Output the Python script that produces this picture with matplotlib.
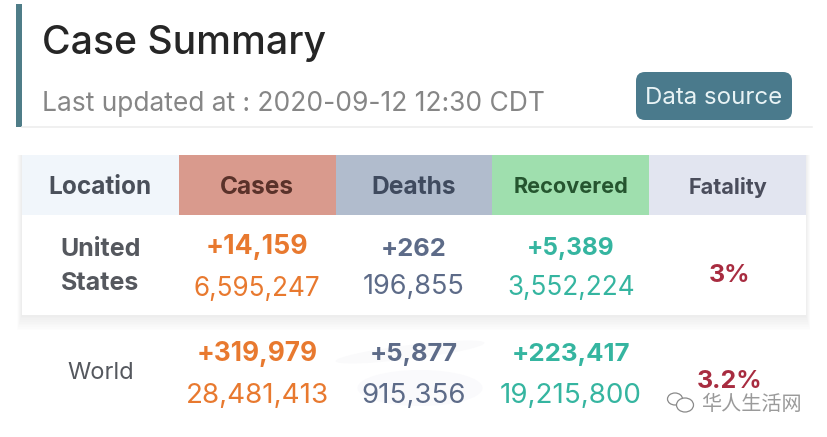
import matplotlib
matplotlib.use('Agg')
import matplotlib.pyplot as plt
from matplotlib.patches import Rectangle, FancyBboxPatch, Ellipse

plt.rcParams['font.family'] = ['Inter', 'DejaVu Sans']

# table contents
columns = ['Location', 'Cases', 'Deaths', 'Recovered', 'Fatality']
header_bg = ['#f1f6fb', '#d99a8d', '#b1bccd', '#9fdfae', '#e2e5f0']
header_fg = ['#4a505a', '#5a322a', '#3f4a5e', '#25552f', '#4a4d5c']
header_size = [17.6, 17.6, 17.7, 15.6, 15.6]
locations = ['United\nStates', 'World']
new_cases = ['+14,159', '+319,979']
total_cases = ['6,595,247', '28,481,413']
new_deaths = ['+262', '+5,877']
total_deaths = ['196,855', '915,356']
new_recovered = ['+5,389', '+223,417']
total_recovered = ['3,552,224', '19,215,800']
fatality = ['3%', '3.2%']

W, H = 828, 437
fig = plt.figure(figsize=(W / 100, H / 100), dpi=100)
ax = fig.add_axes([0, 0, 1, 1])
ax.set_xlim(0, W)
ax.set_ylim(H, 0)
ax.axis('off')

# title block
ax.add_patch(Rectangle((16, 4), 6, 123, color='#4f7d88', lw=0))
ax.plot([22, 812], [127, 127], color='#eeeeee', lw=1.2)
ax.text(42, 43, 'Case Summary', fontsize=28.2, fontweight='medium', color='#262626', va='center', ha='left')
ax.text(42, 104, 'Last updated at : 2020-09-12 12:30 CDT', fontsize=19, color='#868686',
        va='center', ha='left')

# button
ax.add_patch(FancyBboxPatch((636, 72), 156, 48, boxstyle='round,pad=0,rounding_size=9',
                            facecolor='#4a7a8c', edgecolor='none', lw=0))
ax.text(714, 98.5, 'Data source', fontsize=17.3, color='#e8f3f5', va='center', ha='center')

# soft shadow under the US row
for i in range(10):
    ax.add_patch(Rectangle((22 - i * 0.5, 155), 784 + i, 160 + i * 1.7, color='#50506a',
                           alpha=0.007, lw=0, zorder=1))
ax.add_patch(Rectangle((22, 155), 784, 160, color='white', lw=0, zorder=2))

# header
left = 22
col_w = 156.8
centers = [left + col_w * (i + 0.5) for i in range(5)]
for i, name in enumerate(columns):
    ax.add_patch(Rectangle((left + col_w * i, 155), col_w, 60, color=header_bg[i], lw=0, zorder=3))
    ax.text(centers[i], 187, name, fontsize=header_size[i], fontweight='bold', color=header_fg[i],
            va='center', ha='center', zorder=4)

# faint smudge behind the world deaths figures
ax.add_patch(Ellipse((410, 352), 150, 14, angle=-7, color='#fafafb', lw=0, zorder=1))
ax.add_patch(Ellipse((420, 388), 125, 36, color='#fafafc', lw=0, zorder=1))

orange = '#e8792f'
slate = '#5d6b88'
green = '#35b5a0'
red = '#a82c40'
new_y = [247, 354]
total_y = [289, 396]
fat_y = [275, 381]
new_size = [19.2, 18.8]
total_size = [18.8, 20]
for r in range(2):
    if r == 0:
        ax.text(centers[0], 266.5, locations[r], fontsize=18, fontweight='bold', color='#55585e',
                va='center', ha='center', linespacing=1.64, zorder=4)
    else:
        ax.text(centers[0], 373, locations[r], fontsize=17, color='#55585e',
                va='center', ha='center', zorder=4)
    ax.text(centers[1], new_y[r], new_cases[r], fontsize=new_size[r], fontweight='bold', color=orange,
            va='center', ha='center', zorder=4)
    ax.text(centers[1], total_y[r], total_cases[r], fontsize=total_size[r], color=orange,
            va='center', ha='center', zorder=4)
    ax.text(centers[2], new_y[r] + (3 if r == 0 else 0), new_deaths[r], fontsize=18.4,
            fontweight='bold', color=slate, va='center', ha='center', zorder=4)
    ax.text(centers[2], total_y[r] - (2 if r == 0 else 0), total_deaths[r], fontsize=19.5 + r * 0.5, color=slate,
            va='center', ha='center', zorder=4)
    ax.text(centers[3], new_y[r] + (1 if r == 0 else 0), new_recovered[r], fontsize=17.5 + r * 1.1,
            fontweight='bold', color=green, va='center', ha='center', zorder=4)
    ax.text(centers[3], total_y[r] - (1 if r == 0 else 0), total_recovered[r], fontsize=18.8 + r * 1.2, color=green,
            va='center', ha='center', zorder=4)
    ax.text(centers[4] + 1.5, fat_y[r], fatality[r], fontsize=18, fontweight='bold', color=red,
            va='center', ha='center', zorder=4)

# watermark
ax.add_patch(Ellipse((675, 399), 15, 12, fill=False, edgecolor='#8a8a8a', lw=0.9, zorder=5))
ax.add_patch(Ellipse((685, 405), 17, 14, facecolor='white', edgecolor='#8a8a8a', lw=0.9, zorder=5))
ax.text(751, 404, '华人生活网', fontsize=14.5, family=['Noto Sans CJK SC', 'DejaVu Sans'],
        color='#9a9a9a', va='center', ha='center', zorder=5)

fig.savefig('out.png', dpi=100)
